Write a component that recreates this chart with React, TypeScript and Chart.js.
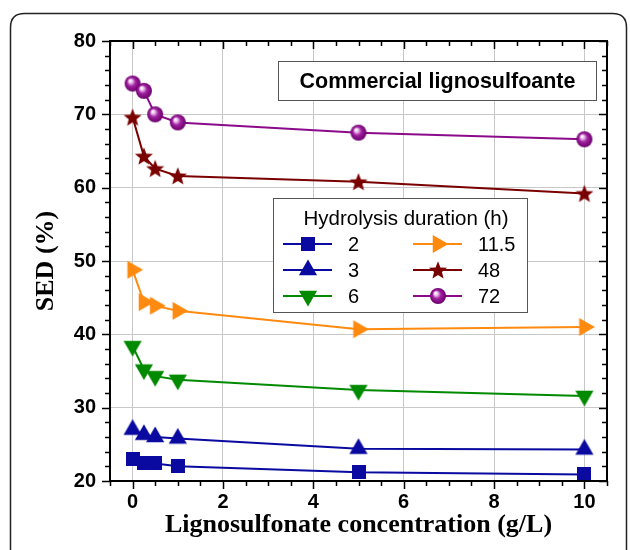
import { useEffect, useRef } from 'react';
import { Chart, registerables } from 'chart.js';

Chart.register(...registerables);

const concentrations = [0, 0.25, 0.5, 1, 5, 10];
const durations = ['2', '3', '6', '11.5', '48', '72'];
const sed2h = [23.0, 22.4, 22.4, 22.0, 21.2, 20.9];
const sed3h = [27.0, 26.3, 26.0, 25.8, 24.4, 24.3];
const sed6h = [38.4, 35.2, 34.3, 33.8, 32.4, 31.6];
const sed11h = [48.8, 44.4, 43.9, 43.2, 40.7, 41.0];
const sed48h = [69.6, 64.3, 62.6, 61.6, 60.8, 59.2];
const sed72h = [74.2, 73.2, 70.0, 68.9, 67.5, 66.6];
const xTicks = [0, 2, 4, 6, 8, 10];
const yTicks = [20, 30, 40, 50, 60, 70, 80];

const BLUE = '#0a0aa0';
const GREEN = '#008a00';
const ORANGE = '#ff8a10';
const DARKRED = '#7a0000';
const PURPLE = '#8a0a8a';

function makeCanvas(w: number, h: number, draw: (g: CanvasRenderingContext2D, cx: number, cy: number) => void) {
  const c = document.createElement('canvas');
  c.width = w;
  c.height = h;
  const g = c.getContext('2d') as CanvasRenderingContext2D;
  draw(g, w / 2, h / 2);
  return c;
}

function squareMarker(color: string) {
  return makeCanvas(14, 14, (g) => {
    g.fillStyle = color;
    g.fillRect(0, 0, 14, 14);
  });
}

function triangleMarker(color: string, rotDeg: number) {
  return makeCanvas(24, 24, (g, cx, cy) => {
    const r = 10.5;
    g.fillStyle = color;
    g.beginPath();
    for (let k = 0; k < 3; k++) {
      const a = ((rotDeg + k * 120) * Math.PI) / 180;
      const px = cx + Math.sin(a) * r;
      const py = cy - Math.cos(a) * r;
      if (k === 0) g.moveTo(px, py);
      else g.lineTo(px, py);
    }
    g.closePath();
    g.fill();
  });
}

function starMarker(color: string) {
  return makeCanvas(22, 22, (g, cx, cy) => {
    const R = 9.5;
    const rIn = 4.1;
    g.fillStyle = color;
    g.beginPath();
    for (let k = 0; k < 10; k++) {
      const a = (k * 36 * Math.PI) / 180;
      const rr = k % 2 === 0 ? R : rIn;
      const px = cx + Math.sin(a) * rr;
      const py = cy + 0.8 - Math.cos(a) * rr;
      if (k === 0) g.moveTo(px, py);
      else g.lineTo(px, py);
    }
    g.closePath();
    g.fill();
  });
}

function sphereMarker() {
  return makeCanvas(18, 18, (g, cx, cy) => {
    const r = 8;
    const grad = g.createRadialGradient(cx - 2.5, cy - 3, 0.5, cx, cy, r);
    grad.addColorStop(0, '#ffffff');
    grad.addColorStop(0.2, '#e9b8e9');
    grad.addColorStop(0.5, '#a020a0');
    grad.addColorStop(1, '#6a006a');
    g.fillStyle = grad;
    g.beginPath();
    g.arc(cx, cy, r, 0, Math.PI * 2);
    g.fill();
  });
}

function drawRoundRect(ctx: CanvasRenderingContext2D, x: number, y: number, w: number, h: number, r: number) {
  ctx.beginPath();
  ctx.moveTo(x + r, y);
  ctx.lineTo(x + w - r, y);
  ctx.quadraticCurveTo(x + w, y, x + w, y + r);
  ctx.lineTo(x + w, y + h - r);
  ctx.quadraticCurveTo(x + w, y + h, x + w - r, y + h);
  ctx.lineTo(x + r, y + h);
  ctx.quadraticCurveTo(x, y + h, x, y + h - r);
  ctx.lineTo(x, y + r);
  ctx.quadraticCurveTo(x, y, x + r, y);
  ctx.closePath();
}

const decorPlugin = {
  id: 'decor',
  beforeDraw(chart: any) {
    const ctx = chart.ctx as CanvasRenderingContext2D;
    ctx.save();
    ctx.fillStyle = '#ffffff';
    ctx.fillRect(0, 0, chart.width, chart.height);
    ctx.strokeStyle = '#222222';
    ctx.lineWidth = 1.5;
    drawRoundRect(ctx, 10.5, 13.5, 616, 600, 14);
    ctx.stroke();
    ctx.restore();
  },
  afterDraw(chart: any) {
    const ctx = chart.ctx as CanvasRenderingContext2D;
    const { left, right, top, bottom } = chart.chartArea;
    const xs = chart.scales.x;
    const ys = chart.scales.y;
    ctx.save();
    // frame
    ctx.strokeStyle = '#000';
    ctx.lineWidth = 2;
    ctx.strokeRect(left, top, right - left, bottom - top);
    // ticks
    ctx.lineWidth = 1.5;
    ctx.beginPath();
    for (let k = -1; k <= 21; k++) {
      const v = k / 2;
      const major = k % 4 === 0;
      const len = major ? 8 : 5;
      const px = Math.round(xs.getPixelForValue(v)) + 0.5;
      if (px < left - 0.5 || px > right + 0.5) continue;
      ctx.moveTo(px, bottom);
      ctx.lineTo(px, bottom + len);
      ctx.moveTo(px, top);
      ctx.lineTo(px, top + len);
    }
    for (let v = 20; v <= 80; v += 2) {
      const major = v % 10 === 0;
      const len = major ? 8 : 5;
      const py = Math.round(ys.getPixelForValue(v)) + 0.5;
      ctx.moveTo(left, py);
      ctx.lineTo(left - len, py);
      ctx.moveTo(right, py);
      ctx.lineTo(right - len, py);
    }
    ctx.stroke();

    // title box
    ctx.fillStyle = '#fff';
    ctx.fillRect(278.5, 61.5, 318, 39);
    ctx.strokeStyle = '#555';
    ctx.lineWidth = 1;
    ctx.strokeRect(278.5, 61.5, 318, 39);
    ctx.fillStyle = '#000';
    ctx.font = 'bold 21.5px "Liberation Sans", Arial, sans-serif';
    ctx.textAlign = 'center';
    ctx.textBaseline = 'middle';
    ctx.fillText('Commercial lignosulfoante', 437.5, 82);

    // legend
    const lx = 273.5, ly = 198.5, lw = 254, lh = 114;
    ctx.fillStyle = '#fff';
    ctx.fillRect(lx, ly, lw, lh);
    ctx.strokeStyle = '#555';
    ctx.strokeRect(lx, ly, lw, lh);
    ctx.fillStyle = '#000';
    ctx.font = '20.5px "Liberation Sans", Arial, sans-serif';
    ctx.fillText('Hydrolysis duration (h)', 406, 219);
    ctx.font = '20px "Liberation Sans", Arial, sans-serif';
    const ds = chart.data.datasets;
    for (let i = 0; i < ds.length; i++) {
      const col = i < 3 ? 0 : 1;
      const row = i % 3;
      const x0 = col === 0 ? 283 : 413;
      const y0 = 244 + row * 26;
      ctx.strokeStyle = ds[i].borderColor;
      ctx.lineWidth = 2;
      ctx.beginPath();
      ctx.moveTo(x0, y0);
      ctx.lineTo(x0 + 49, y0);
      ctx.stroke();
      const img = ds[i].pointStyle as HTMLCanvasElement;
      ctx.drawImage(img, Math.round(x0 + 24.5 - img.width / 2), Math.round(y0 - img.height / 2));
      ctx.fillStyle = '#000';
      ctx.textAlign = 'left';
      ctx.fillText(ds[i].label, x0 + 65, y0 + 1);
    }
    ctx.restore();
  },
};

export default function App() {
  const ref = useRef<HTMLCanvasElement | null>(null);

  useEffect(() => {
    if (!ref.current) return;
    const series = [sed2h, sed3h, sed6h, sed11h, sed48h, sed72h];
    const colors = [BLUE, BLUE, GREEN, ORANGE, DARKRED, PURPLE];
    const markers = [
      squareMarker(BLUE),
      triangleMarker(BLUE, 0),
      triangleMarker(GREEN, 180),
      triangleMarker(ORANGE, 90),
      starMarker(DARKRED),
      sphereMarker(),
    ];
    const datasets = series.map((vals, i) => ({
      label: durations[i],
      data: concentrations.map((x, j) => ({ x, y: vals[j] })),
      borderColor: colors[i],
      backgroundColor: colors[i],
      borderWidth: 2,
      pointStyle: markers[i],
      pointRadius: 8,
      tension: 0,
    }));

    const chart = new Chart(ref.current, {
      type: 'line',
      data: { datasets: datasets as any },
      options: {
        animation: false,
        responsive: false,
        devicePixelRatio: 1,
        layout: { padding: { top: 41, right: 23, left: 0, bottom: 0 } },
        plugins: { legend: { display: false }, tooltip: { enabled: false } },
        scales: {
          x: {
            type: 'linear',
            min: -0.5,
            max: 10.5,
            afterBuildTicks: (s: any) => {
              s.ticks = xTicks.map((v) => ({ value: v }));
            },
            afterFit: (s: any) => {
              s.height = 69;
            },
            grid: { color: '#c8c8c8', lineWidth: 1, drawTicks: false },
            border: { display: false },
            ticks: {
              padding: 9,
              color: '#000',
              font: { family: '"Liberation Sans", Arial, sans-serif', size: 20, weight: 'bold' },
            },
            title: {
              display: true,
              text: 'Lignosulfonate concentration (g/L)',
              color: '#000',
              font: { family: '"Liberation Serif", "Times New Roman", serif', size: 26, weight: 'bold' },
              padding: { top: 0, bottom: 9 },
            },
          },
          y: {
            type: 'linear',
            min: 20,
            max: 80,
            afterBuildTicks: (s: any) => {
              s.ticks = yTicks.map((v) => ({ value: v }));
            },
            afterFit: (s: any) => {
              s.width = 110;
            },
            grid: { color: '#c8c8c8', lineWidth: 1, drawTicks: false },
            border: { display: false },
            ticks: {
              padding: 14,
              color: '#000',
              font: { family: '"Liberation Sans", Arial, sans-serif', size: 20, weight: 'bold' },
            },
            title: {
              display: true,
              text: 'SED (%)',
              color: '#000',
              font: { family: '"Liberation Serif", "Times New Roman", serif', size: 26, weight: 'bold' },
              padding: { top: 31, bottom: 0 },
            },
          },
        },
      } as any,
      plugins: [decorPlugin],
    });
    return () => chart.destroy();
  }, []);

  return (
    <div style={{ position: 'fixed', left: 0, top: 0, width: 630, height: 550 }}>
      <canvas ref={ref} width={630} height={550} />
    </div>
  );
}
